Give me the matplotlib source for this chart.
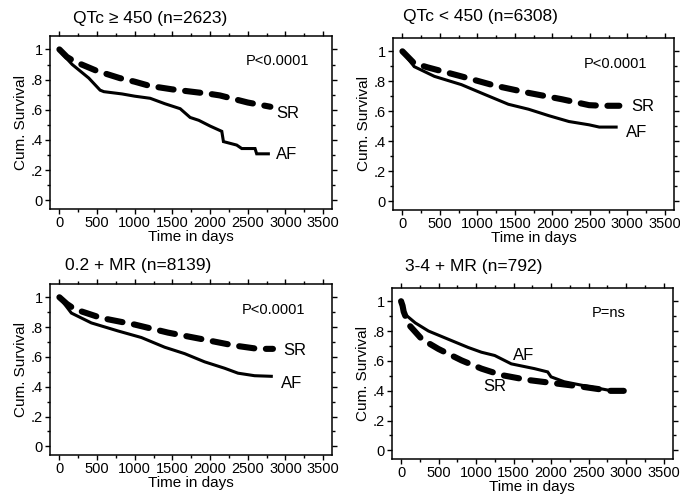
import numpy as np
import matplotlib
matplotlib.use("Agg")
import matplotlib.pyplot as plt
from matplotlib.ticker import MultipleLocator

plt.rcParams['font.family'] = ['Liberation Sans', 'DejaVu Sans']

# panel titles, p-values
titles = ["QTc \u2265 450 (n=2623)", "QTc < 450 (n=6308)", "0.2 + MR (n=8139)", "3-4 + MR (n=792)"]
pvals = ["P<0.0001", "P<0.0001", "P<0.0001", "P=ns"]

# survival curves (days, cum. survival)
sr_days = [
    [0, 100, 200, 500, 800, 1000, 1200, 1500, 2000, 2130, 2500, 2800],
    [0, 157, 336, 786, 1234, 1682, 2131, 2490, 2670, 2893],
    [0, 100, 203, 557, 999, 1441, 1883, 2325, 2635, 2834],
    [0, 20, 35, 101, 278, 498, 808, 1072, 1337, 1690, 2043, 2397, 2795, 2970],
]
sr_surv = [
    [1.0, 0.95, 0.92, 0.857, 0.81, 0.786, 0.758, 0.735, 0.705, 0.695, 0.648, 0.62],
    [1.0, 0.92, 0.893, 0.833, 0.771, 0.723, 0.68, 0.641, 0.637, 0.637],
    [1.0, 0.955, 0.92, 0.861, 0.817, 0.763, 0.72, 0.676, 0.654, 0.654],
    [1.0, 0.97, 0.93, 0.844, 0.745, 0.68, 0.603, 0.548, 0.505, 0.472, 0.45, 0.428, 0.399, 0.399],
]
af_days = [
    [0, 40, 170, 390, 540, 590, 830, 1000, 1205, 1400, 1603, 1735, 1850, 2000, 2155, 2177, 2353, 2420, 2596, 2618, 2773],
    [0, 157, 427, 786, 1100, 1413, 1682, 1952, 2221, 2490, 2625, 2850],
    [0, 159, 424, 778, 1088, 1397, 1662, 1927, 2193, 2370, 2590, 2812],
    [0, 13, 35, 189, 366, 630, 895, 1072, 1249, 1470, 1779, 1955, 2000, 2176, 2397, 2750],
]
af_surv = [
    [1.0, 0.97, 0.90, 0.81, 0.73, 0.72, 0.705, 0.69, 0.676, 0.64, 0.607, 0.549, 0.53, 0.492, 0.457, 0.389, 0.366, 0.343, 0.343, 0.308, 0.308],
    [1.0, 0.898, 0.833, 0.778, 0.712, 0.647, 0.614, 0.571, 0.532, 0.51, 0.495, 0.495],
    [1.0, 0.894, 0.828, 0.774, 0.73, 0.665, 0.622, 0.567, 0.524, 0.491, 0.474, 0.47],
    [1.0, 1.0, 0.92, 0.855, 0.80, 0.745, 0.69, 0.658, 0.636, 0.58, 0.548, 0.526, 0.493, 0.46, 0.438, 0.405],
]

# where the curve labels and p-values sit (data coords)
p_pos = [(2890, 0.92), (2840, 0.913), (2840, 0.913), (2770, 0.923)]
sr_lab = [(2880, 0.577), (3050, 0.63), (2970, 0.641), (1100, 0.425)]
af_lab = [(2880, 0.302), (2985, 0.462), (2940, 0.424), (1490, 0.638)]
title_xy = [(0.082, 1.102), (0.036, 1.124), (0.053, 1.112), (0.046, 1.126)]

positions = [
    [0.0735, 0.578, 0.415, 0.349],
    [0.578, 0.576, 0.413, 0.347],
    [0.0735, 0.081, 0.415, 0.345],
    [0.576, 0.073, 0.413, 0.345],
]

fig = plt.figure(figsize=(6.8, 4.95), dpi=100)

for i in range(4):
    ax = fig.add_axes(positions[i])
    ax.plot(af_days[i], af_surv[i], color='black', lw=2.2,
            solid_joinstyle='miter')
    line, = ax.plot(sr_days[i], sr_surv[i], color='black', lw=4.4,
                    dash_capstyle='round', solid_capstyle='round')
    line.set_dashes((2.5, 1.9))

    ax.set_xlim(-125, 3620)
    ax.set_ylim(-0.057, 1.088)
    ax.set_xticks(np.arange(0, 3501, 500))
    ax.set_yticks([0, 0.2, 0.4, 0.6, 0.8, 1.0])
    ax.set_yticklabels(['0', '.2', '.4', '.6', '.8', '1'])
    ax.xaxis.set_minor_locator(MultipleLocator(250))
    ax.yaxis.set_minor_locator(MultipleLocator(0.1))
    ax.tick_params(which='both', direction='out', top=True, right=True,
                   labeltop=False, labelright=False, width=1.0, labelsize=10.5, pad=1.5)
    ax.tick_params(which='major', length=3.5)
    ax.tick_params(which='minor', length=2)
    for s in ax.spines.values():
        s.set_linewidth(1.1)

    ax.set_xlabel("Time in days", fontsize=11, labelpad=0)
    ax.set_ylabel("Cum. Survival", fontsize=11, labelpad=2)
    ax.text(title_xy[i][0], title_xy[i][1], titles[i], transform=ax.transAxes,
            fontsize=12.5, ha='left', va='center')
    ax.text(p_pos[i][0], p_pos[i][1], pvals[i], fontsize=10.5, ha='center', va='center')
    ax.text(sr_lab[i][0], sr_lab[i][1], "SR", fontsize=12, ha='left', va='center')
    ax.text(af_lab[i][0], af_lab[i][1], "AF", fontsize=12, ha='left', va='center')

fig.savefig("out.png", dpi=100)
